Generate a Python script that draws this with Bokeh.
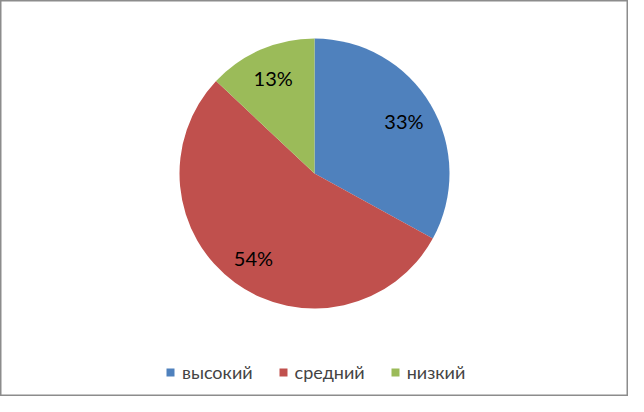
import numpy as np

from bokeh.core.properties import value
from bokeh.embed import file_html
from bokeh.models import ColumnDataSource, Legend, LegendItem
from bokeh.plotting import figure
from bokeh.resources import INLINE

categories = ["высокий", "средний", "низкий"]
shares = [33, 54, 13]
colors = ["#4F81BD", "#C0504D", "#9BBB59"]

W, H = 628, 396
cx, cy, R = 314, 223, 135

frac = np.array(shares) / sum(shares)
cum = np.concatenate([[0], np.cumsum(frac)])
start = np.pi / 2 - cum[1:] * 2 * np.pi
end = np.pi / 2 - cum[:-1] * 2 * np.pi
mid = (start + end) / 2

src = ColumnDataSource(dict(
    cat=categories, start=start, end=end, color=colors,
    lx=cx + 0.77 * R * np.cos(mid), ly=cy + 0.77 * R * np.sin(mid),
    lbl=[f"{s}%" for s in shares]))

p = figure(width=W, height=H, x_range=(0, W), y_range=(0, H),
           min_border=0, toolbar_location=None, tools="",
           output_backend="svg")
p.axis.visible = False
p.grid.visible = False
p.outline_line_color = "#8C8C8C"
p.outline_line_width = 2
p.background_fill_color = "white"
p.border_fill_color = "white"

rs = []
for i in range(len(categories)):
    r = p.wedge(x=cx, y=cy, radius=R, start_angle=start[i], end_angle=end[i],
                fill_color=colors[i], line_color=None)
    rs.append(r)

p.text(x="lx", y="ly", text="lbl", source=src, text_align="center",
       text_baseline="middle", text_font=value("Lato"),
       text_font_size="20px", text_color="#000000")

legend = Legend(items=[LegendItem(label=c, renderers=[r]) for c, r in zip(categories, rs)],
                orientation="horizontal", location=(165, 13),
                label_text_font="Lato", label_text_font_size="18px",
                glyph_width=10, glyph_height=10, label_standoff=7, spacing=25,
                padding=0, margin=0, border_line_color=None,
                background_fill_alpha=0)
p.add_layout(legend, "center")

open("out.html", "w").write(file_html(p, INLINE))
